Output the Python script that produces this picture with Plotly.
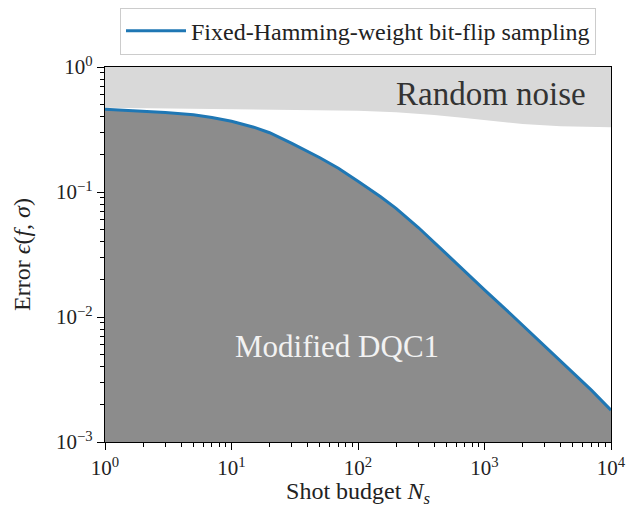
import plotly.graph_objects as go

# Shot budgets and the error reached with fixed-Hamming-weight bit-flip sampling
shots = [1, 2, 3, 5, 7, 10, 15, 20, 30, 50, 70, 100, 150, 200, 300, 500,
         700, 1000, 1500, 2000, 3000, 5000, 7000, 10000]
error = [0.460, 0.445, 0.432, 0.415, 0.395, 0.368, 0.330, 0.298, 0.245,
         0.188, 0.155, 0.122, 0.092, 0.074, 0.052, 0.032, 0.023, 0.0165,
         0.0113, 0.0086, 0.0059, 0.0036, 0.0026, 0.0018]

# Lower edge of the random-noise region
noise_shots = [1, 10, 30, 100, 200, 400, 700, 1000, 2000, 4000, 7000, 10000]
noise_floor = [0.472, 0.460, 0.453, 0.447, 0.435, 0.413, 0.390, 0.375,
               0.350, 0.335, 0.331, 0.330]

Y_MIN, Y_MAX = 1e-3, 1.0
X_TICKS = [1, 10, 100, 1000, 10000]
X_TEXT = ["10<sup>0</sup>", "10<sup>1</sup>", "10<sup>2</sup>",
          "10<sup>3</sup>", "10<sup>4</sup>"]
Y_TICKS = [1e-3, 1e-2, 1e-1, 1]
Y_TEXT = ["10<sup>−3</sup>", "10<sup>−2</sup>", "10<sup>−1</sup>", "10<sup>0</sup>"]

FONT = "'Liberation Serif', 'DejaVu Serif', serif"
BLUE = "#1f77b4"

fig = go.Figure()

# Random-noise band: from the noise floor up to the top of the axis
fig.add_trace(go.Scatter(
    x=noise_shots + noise_shots[::-1],
    y=noise_floor + [Y_MAX] * len(noise_shots),
    fill="toself", fillcolor="#d9d9d9", line=dict(width=0),
    mode="lines", hoverinfo="skip", showlegend=False,
))

# Modified DQC1 region: everything below the sampling curve
fig.add_trace(go.Scatter(
    x=shots + shots[::-1],
    y=error + [Y_MIN] * len(shots),
    fill="toself", fillcolor="#8c8c8c", line=dict(width=0),
    mode="lines", hoverinfo="skip", showlegend=False,
))

fig.add_trace(go.Scatter(
    x=shots, y=error, mode="lines",
    line=dict(color=BLUE, width=3),
    name="Fixed-Hamming-weight bit-flip sampling",
))

axis_common = dict(
    type="log", showgrid=False, zeroline=False, automargin=False,
    showline=True, linecolor="black", linewidth=1.3, mirror=True,
    ticks="outside", ticklen=7, tickwidth=1.2, tickcolor="black",
    tickfont=dict(family=FONT, size=21, color="#222"),
    minor=dict(ticks="outside", ticklen=4, tickwidth=0.9, tickcolor="black",
               dtick="D1", showgrid=False),
)

fig.update_xaxes(
    **axis_common, range=[0, 4], tickvals=X_TICKS, ticktext=X_TEXT,
    title=dict(text="Shot budget <i>N</i><sub><i>s</i></sub>",
               font=dict(family=FONT, size=24, color="#222"), standoff=2),
)
fig.update_yaxes(
    **axis_common, range=[-3, 0], tickvals=Y_TICKS, ticktext=Y_TEXT,
    title=dict(text="Error <i>ϵ</i>(<i>f</i>, <i>σ</i>)",
               font=dict(family=FONT, size=24, color="#222"), standoff=18),
)

fig.add_annotation(
    x=3.82, y=-0.215, xref="x", yref="y", text="Random noise",
    showarrow=False, xanchor="right", yanchor="middle",
    font=dict(family=FONT, size=33, color="#333"),
)
fig.add_annotation(
    x=1.834, y=-2.232, xref="x", yref="y", text="Modified DQC1",
    showarrow=False, xanchor="center", yanchor="middle",
    font=dict(family=FONT, size=31, color="#f2f2f2"),
)

fig.update_layout(
    width=626, height=508,
    margin=dict(l=105, r=15, t=67, b=66, autoexpand=False),
    paper_bgcolor="white", plot_bgcolor="white",
    font=dict(family=FONT, color="#222"),
    legend=dict(
        orientation="h", x=0.5, xanchor="center",
        yref="container", y=0.985, yanchor="top",
        itemwidth=60,
        bgcolor="white", bordercolor="#cccccc", borderwidth=1,
        font=dict(family=FONT, size=24, color="#222"),
    ),
)

fig.write_html("out.html")
